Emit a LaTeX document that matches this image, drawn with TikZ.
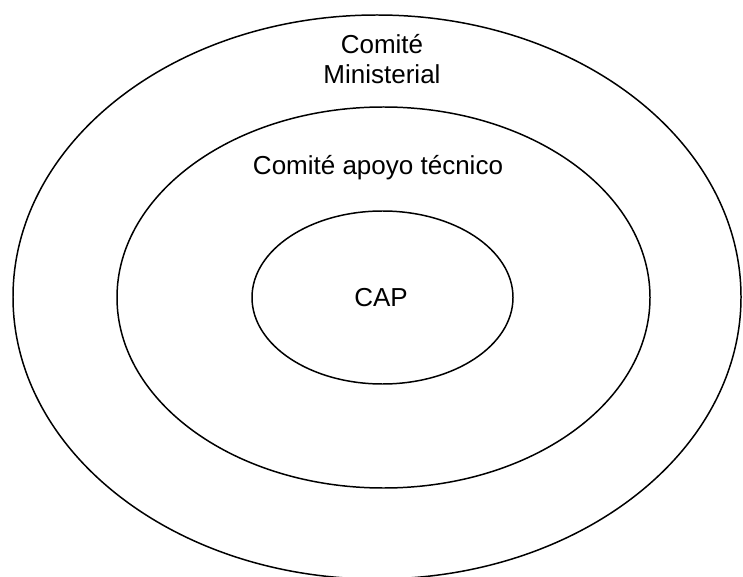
\documentclass[tikz,border=0pt]{standalone}
\usepackage{fontspec}
\setmainfont{Liberation Sans}
\usetikzlibrary{positioning}

\tikzset{
  ring/.style={line width=0.85pt, draw=black},
  ringlabel/.style={font=\fontsize{14.8}{16.6}\selectfont, align=center, inner sep=0pt}
}

\begin{document}
\begin{tikzpicture}[x=0.02cm,y=-0.02cm]

  \useasboundingbox (0,0) rectangle (743,577);

  \draw[ring] (377,297) ellipse (364 and 282);
  \draw[ring] (383.5,297.5) ellipse (266.5 and 190.5);
  \draw[ring] (382.5,297.5) ellipse (130.5 and 86.5);

  \node[ringlabel] (ministerial) at (382,59) {Comité\\Ministerial};
  \node[ringlabel] (apoyo) at (378,168) {Comité apoyo técnico};
  \node[ringlabel] (cap) at (381,298) {CAP};

\end{tikzpicture}
\end{document}
